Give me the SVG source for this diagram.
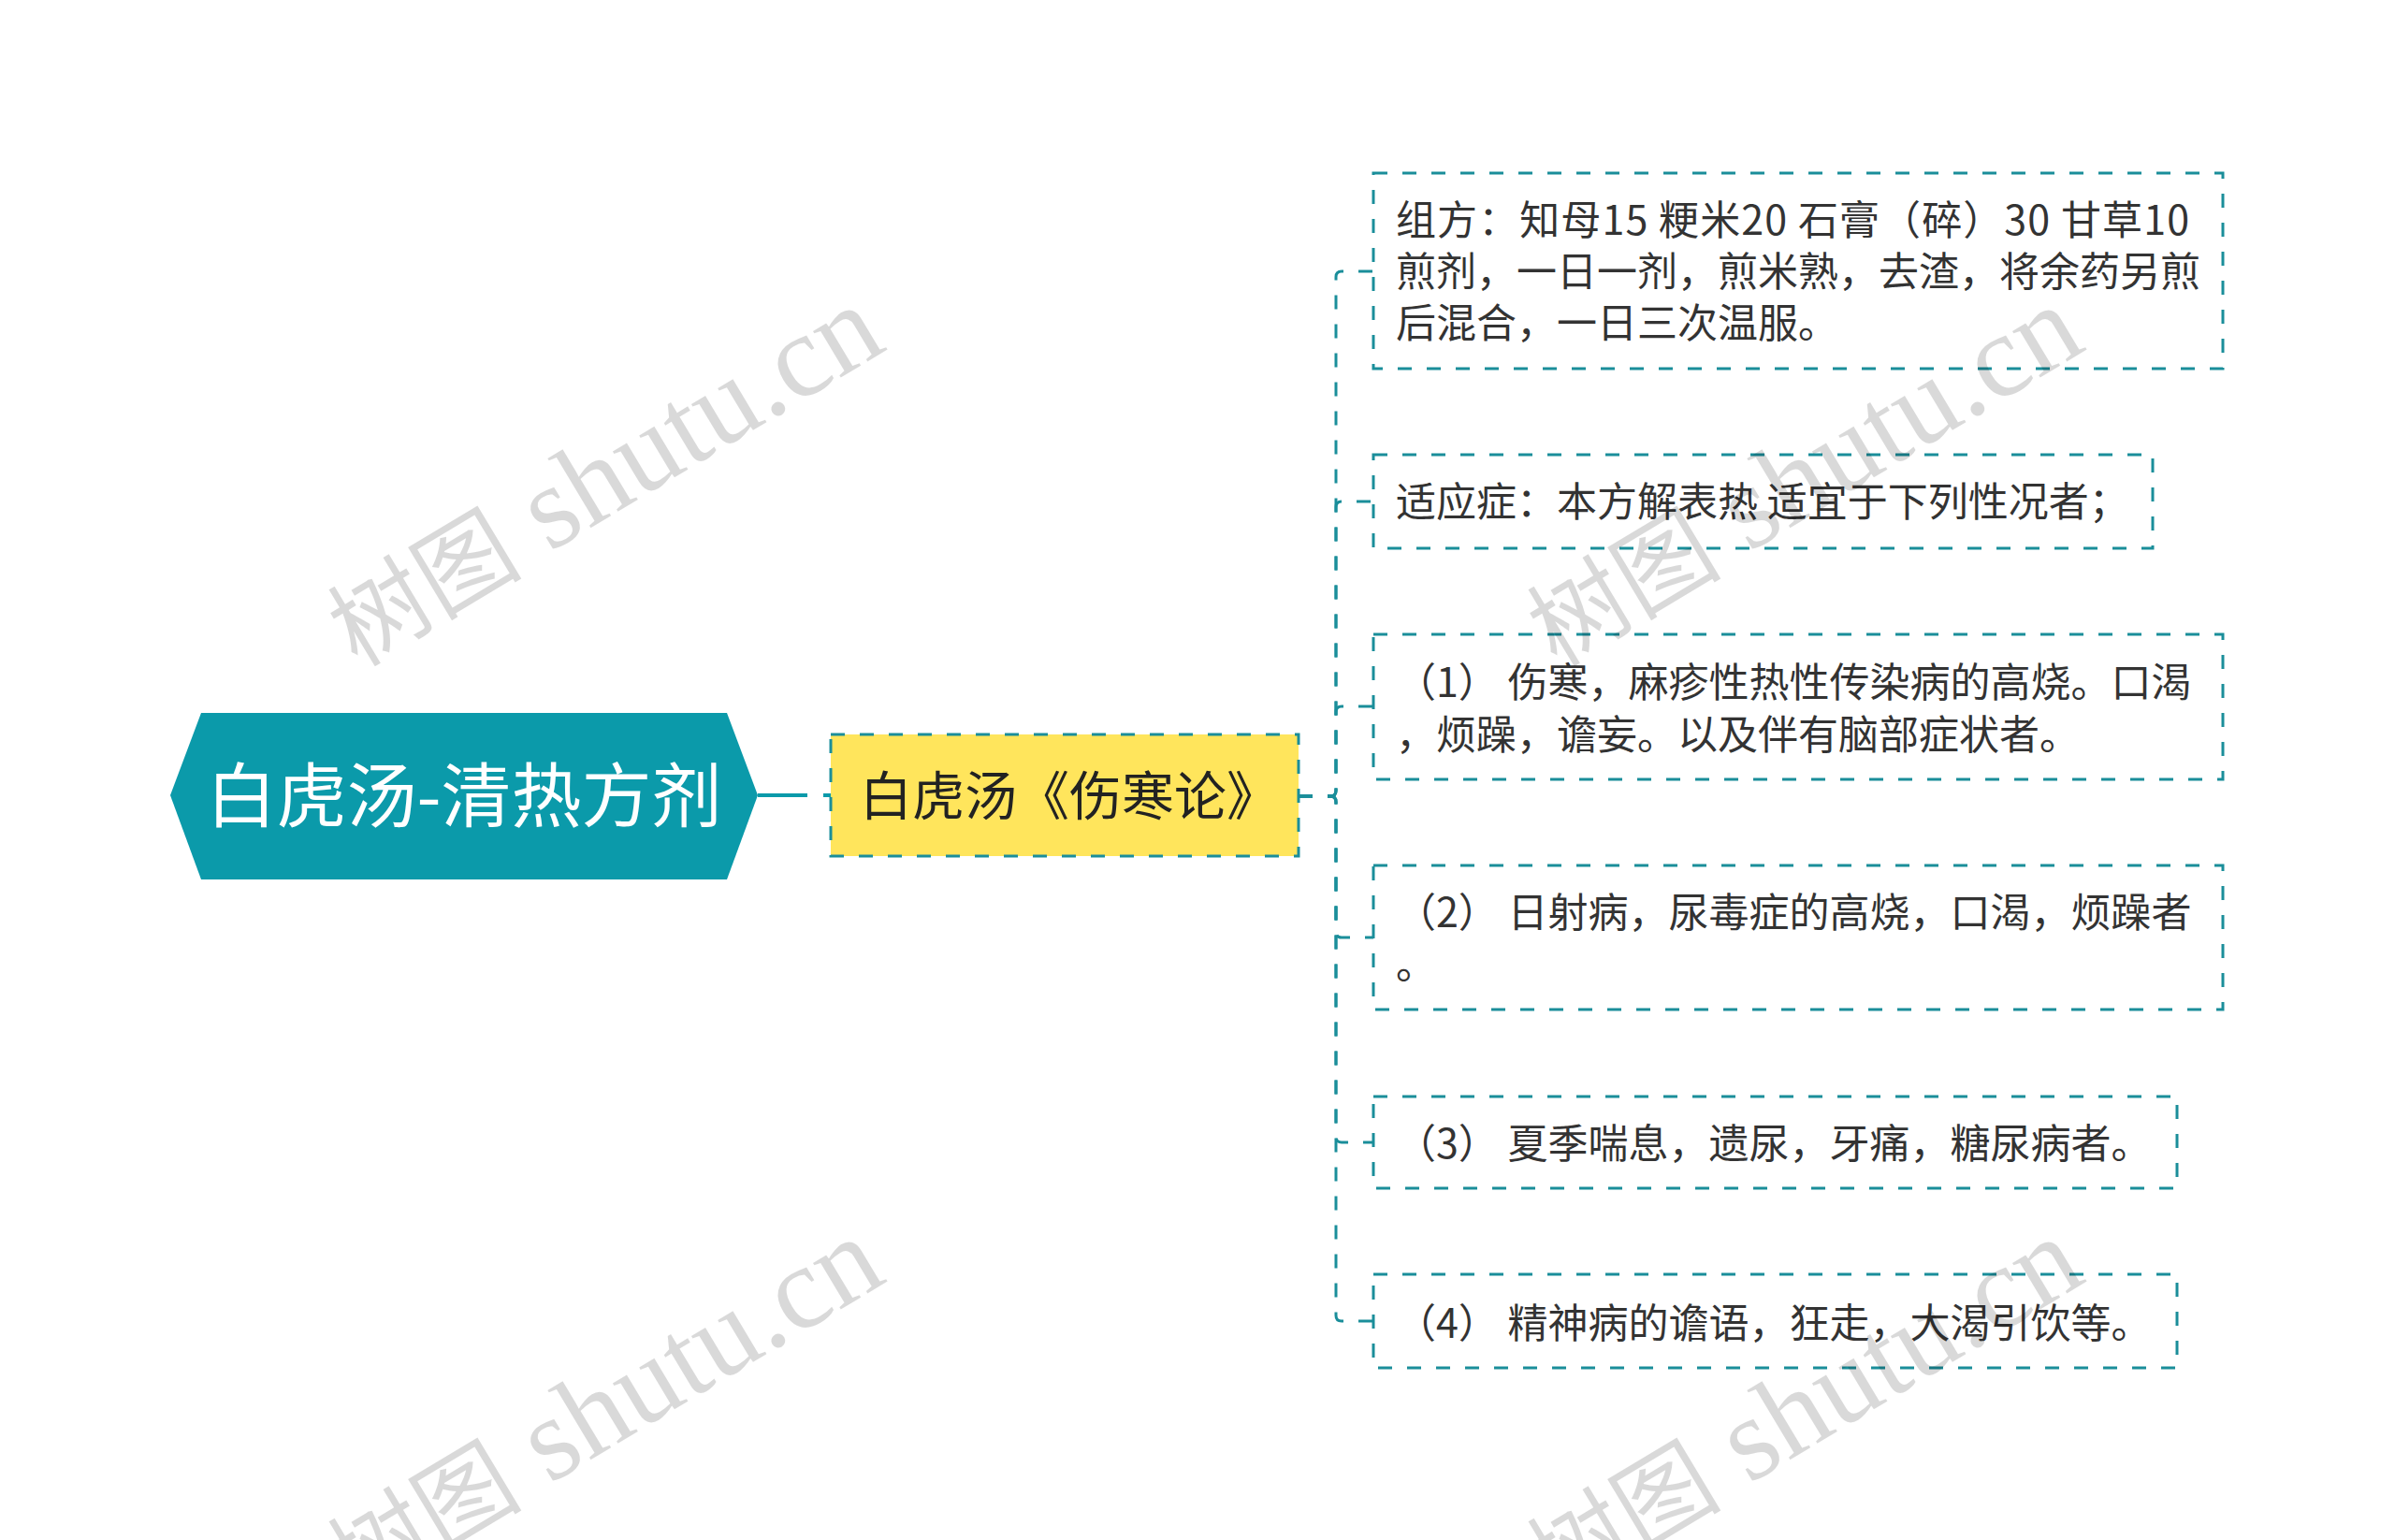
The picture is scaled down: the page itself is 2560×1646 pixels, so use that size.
<svg xmlns="http://www.w3.org/2000/svg" width="2560" height="1646" viewBox="0 0 2560 1646">
<style>
.wm{font-family:"Liberation Serif","Noto Sans CJK SC",serif;font-size:126px;fill:#000;fill-opacity:0.15}
.wmc{font-size:104px}
.box{fill:none;stroke:#1A8E9A;stroke-width:3;stroke-dasharray:15 16}
.t{font-family:"Noto Sans CJK SC","Noto Sans",sans-serif;font-size:43px;fill:#333333}
.conn{fill:none;stroke:#1A8E9A;stroke-width:3;stroke-dasharray:15 16}
</style>
<rect width="2560" height="1646" fill="#ffffff"/>
<g id="connectors">
<path d="M810 850 H863" fill="none" stroke="#0B9AAA" stroke-width="4"/>
<path d="M880 850 H888" fill="none" stroke="#0B9AAA" stroke-width="4"/>
<path class="conn" d="M1388 851 H1422 Q1428 851 1428 845 V296 Q1428 290 1434 290 H1468"/>
<path class="conn" d="M1388 851 H1422 Q1428 851 1428 845 V542 Q1428 536 1434 536 H1468"/>
<path class="conn" d="M1388 851 H1422 Q1428 851 1428 845 V761 Q1428 755 1434 755 H1468"/>
<path class="conn" d="M1388 851 H1422 Q1428 851 1428 857 V996 Q1428 1002 1434 1002 H1468"/>
<path class="conn" d="M1388 851 H1422 Q1428 851 1428 857 V1215 Q1428 1221 1434 1221 H1468"/>
<path class="conn" d="M1388 851 H1422 Q1428 851 1428 857 V1406 Q1428 1412 1434 1412 H1468"/>
</g>
<g id="root">
<polygon points="182,850 215,762 777,762 810,850 777,940 215,940" fill="#0B9AAA"/>
<text x="496" y="878" text-anchor="middle" font-family="'Noto Sans CJK SC','Noto Sans',sans-serif" font-size="75" fill="#ffffff">白虎汤-清热方剂</text>
</g>
<g id="main">
<rect x="888" y="785" width="500" height="130" fill="#FFE55C" stroke="#1A8E9A" stroke-width="3" stroke-dasharray="15 16"/>
<text x="919" y="871" font-family="'Noto Sans CJK SC','Noto Sans',sans-serif" font-size="56" fill="#222222">白虎汤《伤寒论》</text>
</g>
<g id="n1">
<rect class="box" x="1468" y="185" width="908" height="209"/>
<text class="t"><tspan x="1492" y="251" textLength="848" lengthAdjust="spacing">组方：知母15 粳米20 石膏（碎）30 甘草10</tspan><tspan x="1492" y="306">煎剂，一日一剂，煎米熟，去渣，将余药另煎</tspan><tspan x="1492" y="361">后混合，一日三次温服。</tspan></text>
</g>
<g id="n2">
<rect class="box" x="1468" y="486" width="833" height="100"/>
<text class="t" x="1492" y="552">适应症：本方解表热 适宜于下列性况者；</text>
</g>
<g id="n3">
<rect class="box" x="1468" y="678" width="908" height="155"/>
<text class="t"><tspan x="1492" y="745">（1） 伤寒，麻疹性热性传染病的高烧。口渴</tspan><tspan x="1492" y="801">，烦躁，谵妄。以及伴有脑部症状者。</tspan></text>
</g>
<g id="n4">
<rect class="box" x="1468" y="925" width="908" height="154"/>
<text class="t"><tspan x="1492" y="991">（2） 日射病，尿毒症的高烧，口渴，烦躁者</tspan><tspan x="1492" y="1046">。</tspan></text>
</g>
<g id="n5">
<rect class="box" x="1468" y="1172" width="859" height="98"/>
<text class="t" x="1492" y="1238">（3） 夏季喘息，遗尿，牙痛，糖尿病者。</text>
</g>
<g id="n6">
<rect class="box" x="1468" y="1362" width="859" height="100"/>
<text class="t" x="1492" y="1430">（4） 精神病的谵语，狂走，大渴引饮等。</text>
</g>
<g id="watermarks">
<text class="wm" transform="translate(382 714) rotate(-31)"><tspan class="wmc">树图</tspan> shutu.cn</text>
<text class="wm" transform="translate(1664 714) rotate(-31)"><tspan class="wmc">树图</tspan> shutu.cn</text>
<text class="wm" transform="translate(382 1710) rotate(-31)"><tspan class="wmc">树图</tspan> shutu.cn</text>
<text class="wm" transform="translate(1664 1710) rotate(-31)"><tspan class="wmc">树图</tspan> shutu.cn</text>
</g>
</svg>
